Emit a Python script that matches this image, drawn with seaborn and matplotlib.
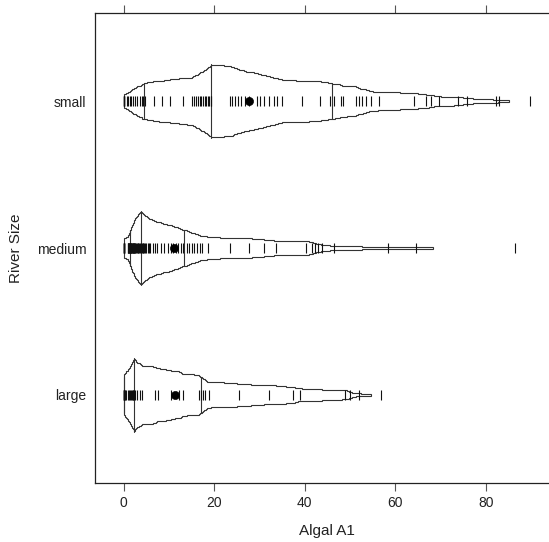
import numpy as np
import pandas as pd
import matplotlib
matplotlib.use("Agg")
import matplotlib.pyplot as plt
import seaborn as sns

a1_small = [0.0] * 8 + [
    0.8, 1.1, 1.4, 1.7, 2.2, 2.5, 3.0, 3.6, 4.0, 4.2,
    4.7, 6.8, 8.4, 10.3, 13.2,
    15.1, 15.5, 16.0, 16.4, 16.8, 17.2, 17.6, 17.9, 18.3, 18.6, 18.9, 19.2, 19.4,
    23.5, 24.0, 24.6, 25.3, 26.0, 26.8, 27.6, 29.4,
    30.2, 30.9, 32.0, 33.1, 33.8, 35.0,
    39.4, 43.4, 45.6, 46.4,
    47.9, 48.5, 51.2, 51.9, 52.7, 53.6, 54.6, 56.4,
    64.1, 66.7, 67.8, 69.7, 73.7, 75.9, 82.2, 82.9, 89.8,
]
a1_medium = [0.0] * 13 + [
    1.0, 1.0, 1.1, 1.2, 1.2, 1.3, 1.4, 1.4, 1.5, 1.6, 1.6, 1.7, 1.8,
    1.9, 2.0, 2.1, 2.2, 2.3, 2.4, 2.4, 2.5,
    2.6, 2.8, 2.9, 3.1, 3.2, 3.4, 3.6, 3.8,
    4.0, 4.2, 4.4, 4.6, 4.8, 5.0, 5.3, 5.6, 5.9, 6.4, 7.0, 7.5, 8.2, 9.0,
    9.8, 10.5, 11.0, 11.6, 12.1, 12.6, 13.1,
    14.0, 14.5, 15.1, 15.6, 16.2, 16.9, 17.4, 18.7, 23.5,
    27.7, 31.0, 33.6, 40.2, 41.5, 42.3, 43.0, 43.7, 46.5,
    58.4, 64.6, 86.3,
]
a1_large = [0.0] * 13 + [
    0.3, 0.6, 0.9, 1.2, 1.4, 1.6, 1.8, 2.0, 2.2, 2.4,
    2.6, 2.9, 3.6, 4.1, 6.9,
    7.6, 10.5, 12.3, 13.1, 16.6,
    17.0, 17.5, 18.0, 18.8,
    25.4, 32.0, 37.5, 39.0, 48.9, 50.0, 51.9, 56.9,
]

sizes = ["small", "medium", "large"]
size_pos = [3, 2, 1]
probs = np.round(np.arange(0.01, 0.50, 0.01), 2)
qref = [0.25, 0.5, 0.75]

groups = {"small": a1_small, "medium": a1_medium, "large": a1_large}
df = pd.concat(
    [pd.DataFrame({"size": s, "a1": groups[s]}) for s in sizes],
    ignore_index=True,
)
df["pos"] = df["size"].map(dict(zip(sizes, size_pos)))

sns.set_theme(style="white")
plt.rcParams["font.family"] = ["Liberation Sans", "DejaVu Sans"]

fig = plt.figure(figsize=(5.49, 5.42), dpi=100)
ax = fig.add_axes([95 / 549, 59 / 542, 464 / 549, 470 / 542])

line_col = "#333333"
half = 0.25
p_all = np.concatenate([probs, 1 - probs[::-1]])
h_all = np.minimum(p_all, 1 - p_all) / 0.5 * half
seg = np.minimum(h_all[:-1], h_all[1:])

for name, y0 in zip(sizes, size_pos):
    x = np.asarray(groups[name])
    q = np.quantile(x, p_all)
    xs = np.repeat(q, 2)
    top = np.concatenate([[0], np.repeat(seg, 2), [0]])
    ax.fill(np.concatenate([xs, xs[::-1]]),
            np.concatenate([y0 + top, y0 - top[::-1]]),
            facecolor="white", edgecolor=line_col, linewidth=0.8, zorder=2)
    for p in qref:
        xq = np.quantile(x, p)
        hq = min(p, 1 - p) / 0.5 * half
        ax.plot([xq, xq], [y0 - hq, y0 + hq], color=line_col, lw=0.8, zorder=3)

# data density ticks
sns.scatterplot(data=df, x="a1", y="pos", marker="|", s=50, color="#111111",
                linewidth=0.8, legend=False, ax=ax, zorder=4)

# group means
means = df.groupby("pos", as_index=False)["a1"].mean()
sns.scatterplot(data=means, x="a1", y="pos", marker="o", s=34, color="black",
                edgecolor="black", legend=False, ax=ax, zorder=5)

ax.set_xlim(-6.29, 96.09)
ax.set_ylim(0.4, 3.6)
ax.set_xticks([0, 20, 40, 60, 80])
ax.set_yticks(size_pos)
ax.set_yticklabels(sizes)
ax.tick_params(axis="x", bottom=True, top=True, labeltop=False, direction="out",
               length=5.6, width=0.8, color="#555555", labelsize=10, pad=4,
               labelcolor="#222222")
ax.tick_params(axis="y", left=False, right=False, length=0, labelsize=10, pad=6,
               labelcolor="#222222")
for sp in ax.spines.values():
    sp.set_color("#222222")
    sp.set_linewidth(0.9)
ax.spines["right"].set_visible(False)

ax.set_xlabel("Algal A1", fontsize=11, color="#222222")
ax.set_ylabel("River Size", fontsize=11, color="#222222")
ax.xaxis.set_label_coords(0.5, -0.088)
ax.yaxis.set_label_coords(-0.155, 0.5)

fig.savefig("out.png", dpi=100)
